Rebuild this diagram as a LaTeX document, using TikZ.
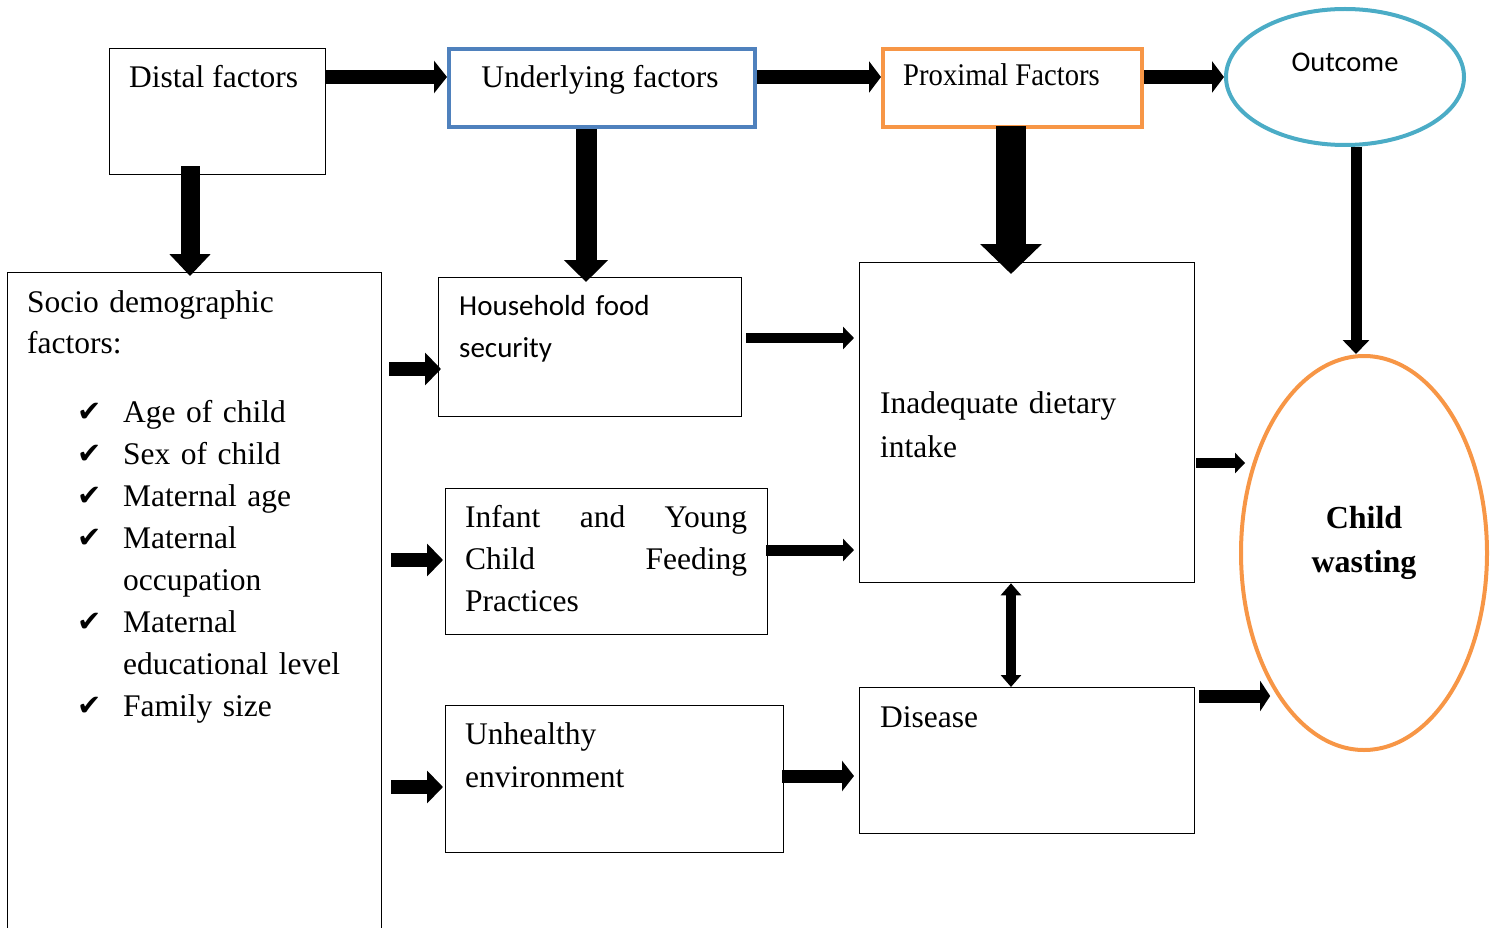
\documentclass[tikz,border=0pt]{standalone}
\usepackage{graphicx}
\usepackage{fontspec}
\setmainfont{Liberation Serif}
\newfontfamily\calibri{Carlito}
\newfontfamily\dejavu{DejaVu Sans}
\usetikzlibrary{arrows.meta,shapes.geometric}

\definecolor{ublue}{HTML}{4F81BD}
\definecolor{porange}{HTML}{F79646}
\definecolor{ocyan}{HTML}{4BACC6}

\newcommand{\chk}{\makebox[46pt][l]{\raisebox{1pt}{\dejavu\fontsize{29}{29}\selectfont ✔}}}

\tikzset{
  box/.style={draw, line width=1.3pt, inner sep=0pt, anchor=north west},
  colbox/.style={box, draw=#1, line width=4pt},
  txt/.style={inner sep=0pt, font=\fontsize{31.5}{42}\selectfont},
  arr/.style n args={3}{line width=#1, -{Triangle[width=#2, length=#3]}},
}

\begin{document}
\begin{tikzpicture}[x=1pt, y=-1pt]
    \useasboundingbox (0,0) rectangle (1496,928);

    % Top row
    \node[box, minimum width=216, minimum height=126] (distal) at (109,48) {};
    \node[colbox=ublue, minimum width=306, minimum height=78] (under) at (447,47) {};
    \node[colbox=porange, minimum width=259, minimum height=78] (prox) at (881,47) {};
    \node[draw=ocyan, line width=4pt, ellipse, minimum width=238, minimum height=136] (outcome) at (1345,77) {};

    \node[txt, anchor=base west] (distal-t) at (129,88) {Distal factors};
    \node[txt, anchor=base] (under-t) at (600,88) {Underlying factors};
    \node[txt, anchor=base west] (prox-t) at (903,86) {\scalebox{0.91}[1]{Proximal Factors}};
    \node[txt, anchor=base, font=\fontsize{28.5}{34}\calibri] (outcome-t) at (1345,72) {Outcome};

    % Second level boxes
    \node[box, minimum width=374, minimum height=670] (socio) at (7,272) {};
    \node[box, minimum width=303, minimum height=139] (house) at (438,277) {};
    \node[box, minimum width=322, minimum height=146] (iycf) at (445,488) {};
    \node[box, minimum width=338, minimum height=147] (unhl) at (445,705) {};
    \node[box, minimum width=335, minimum height=320] (inad) at (859,262) {};
    \node[box, minimum width=335, minimum height=146] (dis) at (859,687) {};
    \node[draw=porange, line width=4pt, ellipse, minimum width=246, minimum height=394] (wasting) at (1364,553) {};

    \node[txt, text width=340, anchor=base west, font=\fontsize{31.5}{41}\selectfont] (socio-t) at (27,312) {Socio demographic\\factors:};
    \node[txt, text width=300, anchor=base west] (socio-l) at (77,422) {%
      \chk Age of child\\
      \chk Sex of child\\
      \chk Maternal age\\
      \chk Maternal\\
      \hspace*{46pt}occupation\\
      \chk Maternal\\
      \hspace*{46pt}educational level\\
      \chk Family size};
    \node[txt, text width=260, anchor=base west, font=\fontsize{29}{42}\calibri] (house-t) at (459,315) {Household food\\security};
    \node[txt, text width=282, anchor=base west] (iycf-t) at (465,527) {Infant\hfill and\hfill Young\\Child\hfill Feeding\\Practices};
    \node[txt, text width=300, anchor=base west, font=\fontsize{31.5}{43}\selectfont] (unhl-t) at (465,744) {Unhealthy\\environment};
    \node[txt, text width=300, anchor=base west, font=\fontsize{31.5}{44}\selectfont] (inad-t) at (880,413) {Inadequate dietary\\intake};
    \node[txt, anchor=base west] (dis-t) at (880,727) {Disease};
    \node[txt, text width=200, align=center, anchor=base, font=\fontsize{32}{44}\selectfont\bfseries] (wasting-t) at (1364,528) {Child\\wasting};

    % Rows and columns of the arrows
    \coordinate (rtop) at (0,77);
    \coordinate (rone) at (0,369);
    \coordinate (rtwo) at (0,560);
    \coordinate (rthree) at (0,787);
    \coordinate (rhouse) at (0,338);
    \coordinate (riycf) at (0,550);
    \coordinate (runhl) at (0,776);
    \coordinate (rinad) at (0,463);
    \coordinate (rdis) at (0,696);
    \coordinate (cdist) at (190,0);
    \coordinate (cunder) at (586,0);
    \coordinate (cprox) at (1011,0);
    \coordinate (cout) at (1356,0);

    % Arrows along the top
    \draw[arr={14pt}{32pt}{13pt}] (distal.east |- rtop) -- (under.west |- rtop);
    \draw[arr={14pt}{31pt}{12pt}] (under.east |- rtop) -- (prox.west |- rtop);
    \draw[arr={14pt}{31pt}{12pt}] (prox.east |- rtop) -- (outcome.west);

    % Arrows down
    \draw[arr={19pt}{40pt}{22pt}, shorten <=-9pt, shorten >=-4pt] (distal.south -| cdist) -- (socio.north -| cdist);
    \draw[arr={21pt}{43pt}{22pt}, shorten >=-5pt] (under.south -| cunder) -- (house.north -| cunder);
    \draw[arr={30pt}{60pt}{30pt}, shorten <=-3pt, shorten >=-12pt] (prox.south -| cprox) -- (inad.north -| cprox);
    \draw[arr={11pt}{26pt}{14pt}] (outcome.south -| cout) -- (wasting.north -| cout);
    \draw[line width=10pt, {Triangle[width=20pt, length=12pt]}-{Triangle[width=20pt, length=12pt]}] (inad.south -| cprox) -- (dis.north -| cprox);

    % Arrows from the socio demographic factors
    \draw[arr={14pt}{32pt}{16pt}, shorten <=7pt, shorten >=-3pt] (socio.east |- rone) -- (house.west |- rone);
    \draw[arr={14pt}{32pt}{16pt}, shorten <=9pt, shorten >=2pt] (socio.east |- rtwo) -- (iycf.west |- rtwo);
    \draw[arr={14pt}{32pt}{16pt}, shorten <=9pt, shorten >=2pt] (socio.east |- rthree) -- (unhl.west |- rthree);

    % Arrows to the proximal boxes
    \draw[arr={10pt}{22pt}{11pt}, shorten <=4pt, shorten >=5pt] (house.east |- rhouse) -- (inad.west |- rhouse);
    \draw[arr={11pt}{22pt}{11pt}, shorten <=-2pt, shorten >=5pt] (iycf.east |- riycf) -- (inad.west |- riycf);
    \draw[arr={13pt}{30pt}{12pt}, shorten <=-2pt, shorten >=5pt] (unhl.east |- runhl) -- (dis.west |- runhl);

    % Arrows to the outcome
    \draw[arr={10pt}{20pt}{10pt}, shorten <=1pt, shorten >=6pt] (inad.east |- rinad) -- (wasting.143 |- rinad);
    \draw[arr={13pt}{30pt}{10pt}, shorten <=4pt, shorten >=4pt] (dis.east |- rdis) -- (wasting.237 |- rdis);
\end{tikzpicture}
\end{document}
